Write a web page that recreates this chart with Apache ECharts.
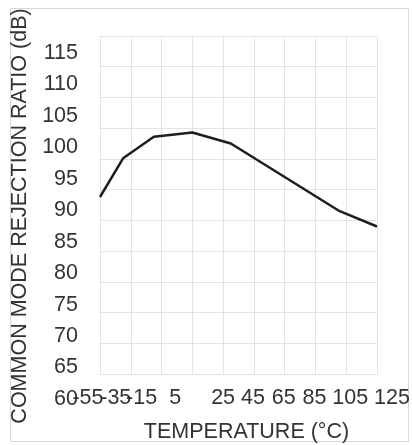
<!DOCTYPE html>
<html>
<head>
<meta charset="utf-8">
<script src="https://cdn.jsdelivr.net/npm/echarts@6/dist/echarts.min.js"></script>
<style>html,body{margin:0;padding:0;background:#fff;}#c{width:412px;height:445px;}</style>
</head>
<body>
<div id="c"></div>
<script>
// ---- data ----
const temperature = [-55, -40, -20, 5, 30, 100, 125];
const cmrr = [88.8, 95.1, 98.6, 99.3, 97.5, 86.6, 84.0];
const xTicks = [-55, -35, -15, 5, 25, 45, 65, 85, 105, 125];
const xTickLabels = ['-55', '-35', '-15', '5', '25', '45', '65', '85', '105', '125'];
const yTicks = [60, 65, 70, 75, 80, 85, 90, 95, 100, 105, 110, 115];
const yTickLabels = ['60', '65', '70', '75', '80', '85', '90', '95', '100', '105', '110', '115'];
const xTitle = 'TEMPERATURE (°C)';
const yTitle = 'COMMON MODE REJECTION RATIO (dB)';

// ---- style ----
const FONT = "'Liberation Sans', Arial, sans-serif";
const TXT = '#333333';
const GRIDC = '#e3e3e3';
const FS = 21.5;
const FT = 21.5;
// horizontal shift of each x tick label (px), as laid out in the reference
const xShift = [-12, -15, -20, -17, 0, -1, -1, -1, 4, 15];

const rich = {};
xShift.forEach((s, i) => {
  rich['p' + i] = {
    fontSize: FS, fontFamily: FONT, color: TXT,
    padding: s < 0 ? [0, -2 * s, 0, 0] : [0, 0, 0, 2 * s]
  };
});

function xLabelAxis(parity, extra) {
  return Object.assign({
    type: 'value', gridIndex: 0, min: -55, max: 125, interval: 20,
    position: 'bottom', offset: 0,
    axisLine: {show: false}, axisTick: {show: false},
    axisLabel: {
      show: true, margin: 13, hideOverlap: false,
      customValues: xTicks.filter((v, i) => i % 2 === parity),
      fontSize: FS, fontFamily: FONT, color: TXT,
      formatter: function (v) {
        const i = xTicks.indexOf(v);
        return i < 0 ? '' : '{p' + i + '|' + xTickLabels[i] + '}';
      },
      rich: rich
    }
  }, extra);
}

const chart = echarts.init(document.getElementById('c'), null, {renderer: 'canvas'});
chart.setOption({
  animation: false,
  backgroundColor: '#ffffff',
  graphic: [{
    type: 'rect', silent: true, z: -10,
    shape: {x: 10.5, y: 8.5, width: 398, height: 433},
    style: {fill: 'none', stroke: '#d8d8d8', lineWidth: 1}
  }],
  grid: [
    {left: 100, top: 36, width: 277, height: 338, outerBoundsMode: 'none', containLabel: false},
    {left: 100, top: 53, width: 277, height: 346, outerBoundsMode: 'none', containLabel: false}
  ],
  xAxis: [
    xLabelAxis(0, {
      splitLine: {show: true, lineStyle: {color: GRIDC, width: 1}},
      name: xTitle, nameLocation: 'middle', nameGap: 47,
      nameTextStyle: {fontSize: FT, fontFamily: FONT, color: TXT, padding: [0, 0, 0, 16]}
    }),
    {type: 'value', gridIndex: 1, min: -55, max: 125, show: false},
    xLabelAxis(1, {splitLine: {show: false}})
  ],
  yAxis: [{
    type: 'value', gridIndex: 0, min: 60, max: 115, interval: 5,
    axisLine: {show: false}, axisTick: {show: false}, axisLabel: {show: false},
    splitLine: {show: true, lineStyle: {color: GRIDC, width: 1}}
  }, {
    type: 'value', gridIndex: 1, min: 60, max: 115, interval: 5,
    axisLine: {show: false}, axisTick: {show: false}, splitLine: {show: false},
    axisLabel: {
      show: true, margin: 22, showMinLabel: true, showMaxLabel: true,
      fontSize: FS, fontFamily: FONT, color: TXT,
      formatter: function (v) {
        const i = yTicks.indexOf(v);
        return i < 0 ? '' : yTickLabels[i];
      }
    },
    name: yTitle, nameLocation: 'middle', nameRotate: 90, nameGap: 65,
    nameTextStyle: {fontSize: FT, fontFamily: FONT, color: TXT, padding: [0, 0, 0, 20]}
  }],
  series: [{
    type: 'line', xAxisIndex: 0, yAxisIndex: 0,
    data: temperature.map((t, i) => [t, cmrr[i]]),
    symbol: 'none', smooth: false,
    lineStyle: {color: '#1e1e1e', width: 2.5}
  }]
});
</script>
</body>
</html>
